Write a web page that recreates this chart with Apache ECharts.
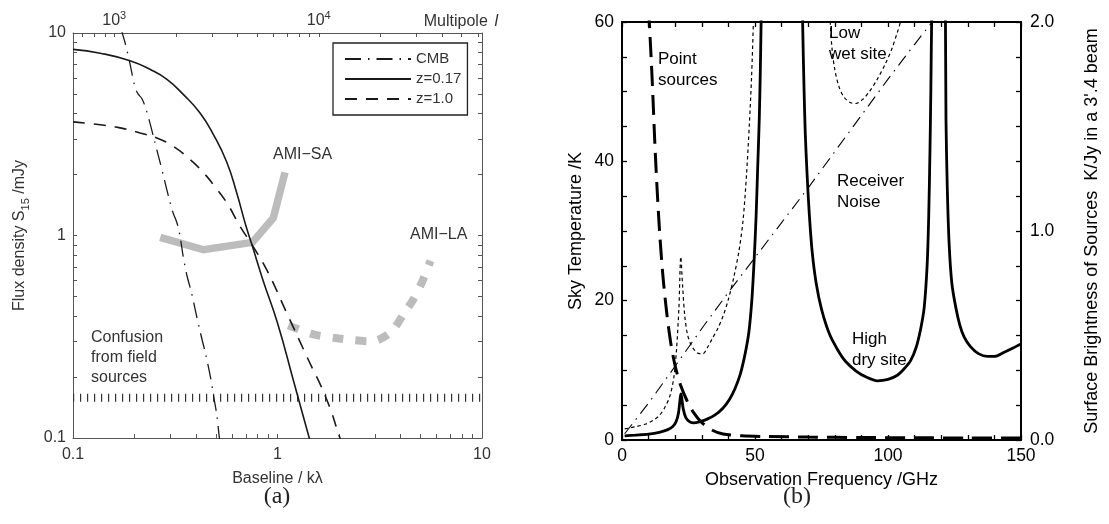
<!DOCTYPE html>
<html>
<head>
<meta charset="utf-8">
<script src="https://cdn.jsdelivr.net/npm/echarts@6.0.0/dist/echarts.min.js"></script>
<style>
  html, body { margin: 0; padding: 0; background: #fff; }
  #chart { width: 1109px; height: 524px; }
</style>
</head>
<body>
<div id="chart"></div>
<script>
// ---------- Panel (a): flux density against baseline ----------
// [baseline kλ, flux density mJy]
const cmb = [[0.172, 10.4], [0.18, 8.9], [0.188, 7.4], [0.195, 6.2], [0.201, 5.4], [0.208, 5.0],
  [0.217, 4.75], [0.226, 4.3], [0.236, 3.7], [0.25, 2.95], [0.265, 2.35], [0.28, 1.88],
  [0.295, 1.52], [0.308, 1.3], [0.318, 1.2], [0.327, 1.1], [0.335, 0.97], [0.345, 0.8],
  [0.36, 0.64], [0.38, 0.52], [0.4, 0.41], [0.42, 0.33], [0.445, 0.26], [0.47, 0.2],
  [0.49, 0.155], [0.505, 0.13], [0.52, 0.1], [0.53, 0.09]];
const z017 = [[0.1, 8.3], [0.136, 7.95], [0.19, 7.3], [0.239, 6.6], [0.288, 5.9], [0.347, 4.96],
  [0.418, 4.03], [0.486, 3.15], [0.565, 2.3], [0.632, 1.62], [0.7, 1.12], [0.75, 0.9],
  [0.85, 0.6], [1.0, 0.37], [1.2, 0.19], [1.43, 0.1], [1.5, 0.085]];
const z10 = [[0.1, 3.64], [0.136, 3.52], [0.17, 3.4], [0.213, 3.21], [0.257, 3.03], [0.31, 2.75],
  [0.374, 2.37], [0.435, 2.04], [0.486, 1.78], [0.565, 1.45], [0.656, 1.11], [0.75, 0.9],
  [0.885, 0.678], [1.11, 0.414], [1.39, 0.253], [1.74, 0.155], [2.02, 0.1], [2.1, 0.09]];
const amiSA = [[0.267, 0.98], [0.435, 0.85], [0.754, 0.925], [0.954, 1.22], [1.088, 2.05]];
const amiLA = [[1.13, 0.36], [1.5, 0.325], [2.0, 0.31], [2.9, 0.3], [3.6, 0.335], [4.2, 0.42],
  [4.6, 0.48], [5.06, 0.58], [5.6, 0.75]];
const confusion = [[0.1, 0.158], [10, 0.158]];
const baselineRange = [0.1, 10];
const fluxRange = [0.1, 10];
const multipoleLabels = [1000, 10000];

// ---------- Panel (b): sky temperature against frequency ----------
// [frequency GHz, temperature K]
const pointSources = [[10, 62], [10.4, 59], [11, 54.5], [11.6, 49.5], [12.3, 43], [13.2, 36],
  [14.2, 29.5], [15.4, 23.5], [16.8, 18.3], [18.3, 14], [20, 10.6], [22, 7.9], [24.5, 5.6],
  [27, 3.9], [30, 2.5], [34, 1.4], [38, 0.85], [45, 0.6], [55, 0.5], [70, 0.42], [90, 0.36],
  [110, 0.32], [130, 0.29], [150, 0.27]];
const receiverNoise = [[1, 0.9], [10, 5.3], [20, 10.6], [30, 16], [40, 21.2], [50, 26.2],
  [60, 31.2], [70, 36.2], [80, 41.4], [90, 46.6], [100, 51.8], [110, 56.8], [117, 60.2]];
const lowWetSite = [[1, 1.6], [5, 1.9], [9, 2.3], [12, 2.9], [14, 3.5], [16, 4.6], [18, 6.3],
  [19.5, 9], [20.5, 13], [21.4, 19], [22.1, 26.3], [22.8, 22], [23.6, 17.8], [24.6, 15.2],
  [26, 13.6], [27.5, 12.8], [29, 12.4], [30.5, 12.4], [32, 13.2], [34, 14.6], [36, 16],
  [38, 17.8], [40, 20.2], [42, 23.3], [44, 27.2], [45.5, 31.5], [46.8, 38], [47.9, 45.5],
  [48.7, 52], [49.4, 60], [50.3, 72], [77.5, 72], [78.3, 60], [79, 56], [80, 53.2],
  [81.5, 50.8], [83.5, 49.2], [86, 48.4], [88, 48.3], [90.5, 48.9], [93, 50], [96, 51.8],
  [99, 54], [101.5, 56.2], [103.5, 58.5], [104.7, 60], [106, 62]];
const highDrySite = [[1, 0.6], [5, 0.7], [10, 0.85], [14, 1.1], [17, 1.45], [19, 1.9],
  [20.3, 2.6], [21.2, 3.8], [22.2, 6.6], [23, 4.5], [24, 3.2], [25.5, 2.6], [27, 2.45],
  [29, 2.6], [32, 3.0], [35, 3.6], [38, 4.6], [40.5, 5.9], [42.5, 7.4], [44.5, 9.5],
  [46.3, 12.4], [47.7, 15.5], [48.8, 20], [49.7, 26], [50.4, 32], [51, 39], [51.6, 46],
  [52, 53], [52.3, 60], [52.8, 72], [67.4, 72], [67.9, 60], [68.4, 51], [68.9, 44],
  [69.6, 38], [70.4, 32.5], [71.5, 27], [73, 22.5], [75, 18.8], [78, 15.2], [81, 13],
  [84, 11.3], [88, 9.9], [92, 9], [96, 8.5], [100, 8.7], [103.5, 9.3], [106, 10.2],
  [108.5, 11.4], [110.5, 13.2], [112.2, 15.8], [113.6, 19], [114.7, 25], [115.3, 32],
  [115.8, 42], [116.1, 50], [116.4, 60], [116.9, 72], [121.1, 72], [121.6, 60], [121.8, 46],
  [122.3, 36], [123, 28], [124, 22.5], [125.5, 19], [127, 16.5], [128.6, 14.8], [131, 13.4],
  [134, 12.4], [137.4, 12], [140, 12], [143.7, 12.6], [147, 13.2], [150, 13.8]];
const freqRange = [0, 150];
const tempRange = [0, 60];
const brightnessRange = [0, 2];

// ---------- helpers ----------
const SANS = "'Liberation Sans', Arial, Helvetica, sans-serif";
const SERIF = "'Liberation Serif', 'Times New Roman', serif";
const A_AXIS = '#555';
const A_TEXT = '#333';

// tick positions 1..9 × 10^n across a log range
function logTickValues(lo, hi) {
  const out = [];
  for (let d = lo; d < hi * 1.0001; d *= 10) {
    for (let m = 1; m <= 9; m++) {
      const v = +(m * d).toPrecision(6);
      if (v >= lo && v <= hi) out.push(v);
    }
  }
  return out;
}
const multipoleRange = baselineRange.map(b => 2 * Math.PI * b * 1000);

function logAxisA(extra) {
  return Object.assign({
    type: 'log', logBase: 10, gridIndex: 0,
    axisLine: { show: true, onZero: false, lineStyle: { color: A_AXIS, width: 1 } },
    axisTick: { show: true, inside: true, length: 4, lineStyle: { color: A_AXIS, width: 1 } },
    axisLabel: { color: A_TEXT, fontSize: 16, fontFamily: SANS, margin: 9 },
    splitLine: { show: false },
    minorTick: { show: false }, minorSplitLine: { show: false }
  }, extra);
}

function valueAxisB(extra) {
  return Object.assign({
    type: 'value', gridIndex: 1,
    axisLine: { show: true, onZero: false, lineStyle: { color: '#000', width: 2 } },
    axisTick: { show: true, inside: true, length: 5, lineStyle: { color: '#000', width: 1.3 } },
    minorTick: { show: true, length: 5, lineStyle: { color: '#000', width: 1.3 } },
    axisLabel: { color: '#000', fontSize: 17.5, fontFamily: SANS, margin: 7 },
    splitLine: { show: false }, minorSplitLine: { show: false }
  }, extra);
}

function lineSeries(name, data, xi, yi, style, extra) {
  return Object.assign({
    name, type: 'line', data, xAxisIndex: xi, yAxisIndex: yi,
    symbol: 'none', showSymbol: false, silent: true, animation: false,
    lineStyle: style, clip: true
  }, extra || {});
}

const option = {
  animation: false,
  backgroundColor: '#fff',
  grid: [
    { left: 73, top: 33, width: 409, height: 405, containLabel: false, outerBoundsMode: 'none' },
    { left: 622, top: 22, width: 399, height: 418, containLabel: false, outerBoundsMode: 'none' }
  ],
  xAxis: [
    logAxisA({
      position: 'bottom', min: baselineRange[0], max: baselineRange[1],
      axisTick: { show: true, inside: true, length: 4, customValues: logTickValues(0.1, 10),
        lineStyle: { color: A_AXIS, width: 1 } },
      name: 'Baseline / kλ', nameLocation: 'middle', nameGap: 33,
      nameTextStyle: { color: A_TEXT, fontSize: 16, fontFamily: SANS }
    }),
    logAxisA({
      position: 'top', min: multipoleRange[0], max: multipoleRange[1],
      axisTick: { show: true, inside: true, length: 4, customValues: logTickValues(100, 100000),
        lineStyle: { color: A_AXIS, width: 1 } },
      axisLabel: {
        customValues: multipoleLabels, margin: 4,
        formatter: v => '{b|10}{s|' + Math.round(Math.log10(v)) + '}',
        rich: {
          b: { fontSize: 16, fontFamily: SANS, color: A_TEXT, lineHeight: 22, verticalAlign: 'bottom' },
          s: { fontSize: 11, fontFamily: SANS, color: A_TEXT, lineHeight: 22, verticalAlign: 'top', padding: [3, 0, 0, 0] }
        }
      }
    }),
    valueAxisB({
      position: 'bottom', min: freqRange[0], max: freqRange[1], interval: 50,
      minorTick: { show: true, splitNumber: 5, length: 5, lineStyle: { color: '#000', width: 1.3 } },
      name: 'Observation Frequency /GHz', nameLocation: 'middle', nameGap: 31,
      nameTextStyle: { color: '#000', fontSize: 18, fontFamily: SANS }
    }),
    valueAxisB({
      position: 'top', min: freqRange[0], max: freqRange[1], interval: 50,
      minorTick: { show: true, splitNumber: 5, length: 5, lineStyle: { color: '#000', width: 1.3 } },
      axisLabel: { show: false }
    })
  ],
  yAxis: [
    logAxisA({
      position: 'left', min: fluxRange[0], max: fluxRange[1],
      axisTick: { show: true, inside: true, length: 4, customValues: logTickValues(0.1, 10),
        lineStyle: { color: A_AXIS, width: 1 } },
      axisLabel: { color: A_TEXT, fontSize: 16, fontFamily: SANS, margin: 7 },
      name: '{t|Flux density S}{s|15}{t| /mJy}', nameLocation: 'middle', nameGap: 42, nameRotate: 90,
      nameTextStyle: {
        rich: {
          t: { fontSize: 16, fontFamily: SANS, color: A_TEXT, lineHeight: 19, verticalAlign: 'top' },
          s: { fontSize: 11, fontFamily: SANS, color: A_TEXT, lineHeight: 19, verticalAlign: 'bottom' }
        }
      }
    }),
    logAxisA({
      position: 'right', min: fluxRange[0], max: fluxRange[1],
      axisTick: { show: true, inside: true, length: 4, customValues: logTickValues(0.1, 10),
        lineStyle: { color: A_AXIS, width: 1 } },
      axisLabel: { show: false }
    }),
    valueAxisB({
      position: 'left', min: tempRange[0], max: tempRange[1], interval: 20,
      minorTick: { show: true, splitNumber: 4, length: 5, lineStyle: { color: '#000', width: 1.3 } },
      axisLabel: { color: '#000', fontSize: 17.5, fontFamily: SANS, margin: 8 },
      name: 'Sky Temperature /K', nameLocation: 'middle', nameGap: 37, nameRotate: 90,
      nameTextStyle: { color: '#000', fontSize: 18, fontFamily: SANS }
    }),
    valueAxisB({
      position: 'right', min: brightnessRange[0], max: brightnessRange[1], interval: 1,
      minorTick: { show: true, splitNumber: 6, length: 5, lineStyle: { color: '#000', width: 1.3 } },
      axisLabel: { color: '#000', fontSize: 17.5, fontFamily: SANS, margin: 9, formatter: v => v.toFixed(1) },
      name: "Surface Brightness of Sources  K/Jy in a 3'.4 beam", nameLocation: 'middle',
      nameGap: 62, nameRotate: 90,
      nameTextStyle: { color: '#000', fontSize: 18, fontFamily: SANS }
    })
  ],
  legend: {
    data: ['CMB', 'z=0.17', 'z=1.0'],
    orient: 'vertical', left: 333, top: 43,
    itemWidth: 66, itemHeight: 14, itemGap: 2,
    padding: [7, 6, 7, 11],
    borderColor: '#222', borderWidth: 1.3, backgroundColor: '#fff',
    selectedMode: false,
    itemStyle: { opacity: 0 },
    textStyle: { color: A_TEXT, fontSize: 15, fontFamily: SANS, lineHeight: 18 }
  },
  series: [
    // panel (a)
    lineSeries('AMI-SA', amiSA, 0, 0, { color: '#bcbcbc', width: 7.5, cap: 'butt', join: 'miter' }),
    lineSeries('AMI-LA', amiLA, 0, 0, { color: '#bcbcbc', width: 8, type: [11, 12], cap: 'butt' }, { smooth: 0.3 }),
    lineSeries('Confusion', confusion, 0, 0, { color: '#333', width: 8, type: [1.2, 5.8], cap: 'butt' }),
    lineSeries('CMB', cmb, 0, 0, { color: '#1a1a1a', width: 1.3, type: [16, 7, 1.5, 7] }, { smooth: 0.3 }),
    lineSeries('z=0.17', z017, 0, 0, { color: '#1a1a1a', width: 1.6, type: 'solid' }, { smooth: 0.5 }),
    lineSeries('z=1.0', z10, 0, 0, { color: '#1a1a1a', width: 1.6, type: [12, 9] }, { smooth: 0.5 }),
    // panel (b)
    lineSeries('Point sources', pointSources, 2, 2, { color: '#000', width: 3, type: [20, 9], cap: 'butt' }, { smooth: 0.3 }),
    lineSeries('Receiver Noise', receiverNoise, 2, 2, { color: '#000', width: 1.1, type: [12, 6, 1.5, 6] }),
    lineSeries('Low wet site', lowWetSite, 2, 2, { color: '#000', width: 1.2, type: [3.5, 3] }, { smooth: 0.3 }),
    lineSeries('High dry site', highDrySite, 2, 2, { color: '#000', width: 2.8, type: 'solid' }, { smooth: 0.3 })
  ],
  graphic: [
    { type: 'text', x: 498, y: 22, silent: true,
      style: { text: '{n|Multipole}  {i|l}', align: 'right', verticalAlign: 'middle',
        rich: { n: { fontSize: 16, fontFamily: SANS, fill: A_TEXT, color: A_TEXT },
                i: { fontSize: 16, fontFamily: SANS, fontStyle: 'italic', fill: A_TEXT, color: A_TEXT } } } },
    { type: 'text', x: 273, y: 155, silent: true,
      style: { text: 'AMI\u2212SA', fontSize: 16, fontFamily: SANS, fill: A_TEXT, verticalAlign: 'middle' } },
    { type: 'text', x: 410, y: 235, silent: true,
      style: { text: 'AMI\u2212LA', fontSize: 16, fontFamily: SANS, fill: A_TEXT, verticalAlign: 'middle' } },
    { type: 'text', x: 91, y: 328, silent: true,
      style: { text: 'Confusion\nfrom field\nsources', fontSize: 16, lineHeight: 20, fontFamily: SANS,
        fill: A_TEXT, verticalAlign: 'top' } },
    { type: 'text', x: 277, y: 497, silent: true,
      style: { text: '(a)', fontSize: 24, fontFamily: SERIF, fill: '#222', align: 'center', verticalAlign: 'middle' } },
    { type: 'text', x: 797, y: 497, silent: true,
      style: { text: '(b)', fontSize: 24, fontFamily: SERIF, fill: '#222', align: 'center', verticalAlign: 'middle' } },
    { type: 'text', x: 658, y: 49, silent: true,
      style: { text: 'Point\nsources', fontSize: 17, lineHeight: 21, fontFamily: SANS, fill: '#000', verticalAlign: 'top' } },
    { type: 'text', x: 829, y: 23, silent: true,
      style: { text: 'Low\nwet site', fontSize: 17, lineHeight: 21, fontFamily: SANS, fill: '#000', verticalAlign: 'top' } },
    { type: 'text', x: 837, y: 171, silent: true,
      style: { text: 'Receiver\nNoise', fontSize: 17, lineHeight: 21, fontFamily: SANS, fill: '#000', verticalAlign: 'top' } },
    { type: 'text', x: 852, y: 329, silent: true,
      style: { text: 'High\ndry site', fontSize: 17, lineHeight: 21, fontFamily: SANS, fill: '#000', verticalAlign: 'top' } }
  ]
};

const chart = echarts.init(document.getElementById('chart'), null, { renderer: 'canvas' });
chart.setOption(option);
</script>
</body>
</html>
